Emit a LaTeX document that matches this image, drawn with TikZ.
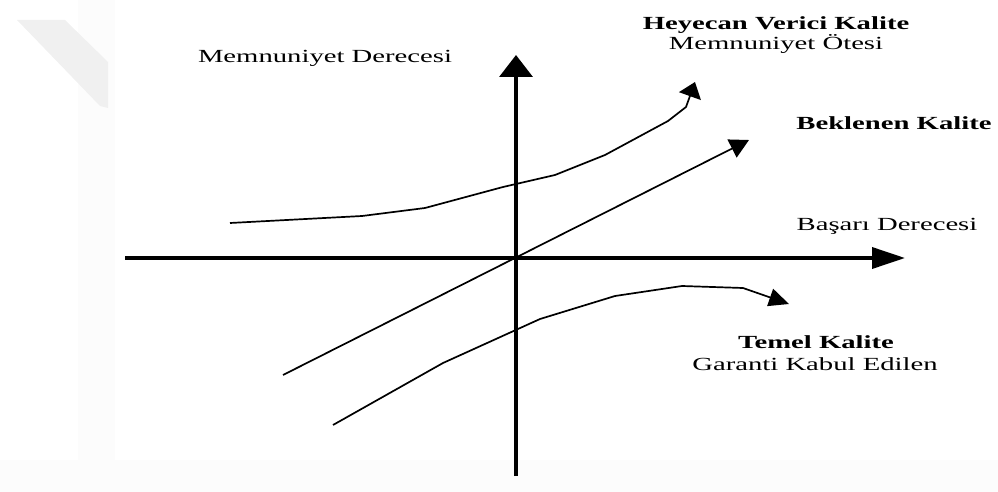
\documentclass[tikz,border=0pt]{standalone}
\usepackage{fontspec}
\setmainfont{Liberation Serif}[FakeStretch=1.55]
\usetikzlibrary{arrows.meta}
\begin{document}
\begin{tikzpicture}[x=1pt,y=-1pt,
  axis/.style={line width=3.6pt},
  curve/.style={line width=1.7pt, line join=round},
  lbl/.style={font=\fontsize{18.5}{20}\selectfont, anchor=base, inner sep=0pt},
  blbl/.style={lbl, font=\fontsize{18.5}{20}\selectfont\bfseries}]
\useasboundingbox (0,0) rectangle (998,492);
% faint background marks
\fill[black!1] (78,0) rectangle (115,492);
\fill[black!1] (0,460) rectangle (998,492);
\fill[black!6] (17,20) -- (65,20) -- (108,62) -- (108,108) -- (100,106) -- cycle;
% axes
\coordinate (vb) at (516,476);
\coordinate (vt) at (516,55);
\coordinate (hl) at (125,258);
\coordinate (hr) at (905,258);
\draw[axis, -{Triangle[length=22pt,width=33pt]}] (vb) -- (vt);
\draw[axis, -{Triangle[length=33pt,width=21pt]}] (hl) -- (hr);
% expected quality
\coordinate (b0) at (283,375);
\coordinate (b1) at (749,140);
\draw[curve, -{Triangle[length=19pt,width=20pt]}] (b0) -- (b1);
% exciting quality
\coordinate (h0) at (230,223);
\coordinate (h1) at (362,216);
\coordinate (h2) at (425,208);
\coordinate (h3) at (503,187);
\coordinate (h4) at (555,175);
\coordinate (h5) at (605,155);
\coordinate (h6) at (668,121);
\coordinate (h7) at (686,107);
\coordinate (h8) at (695,82);
\draw[curve, -{Triangle[length=15pt,width=23pt]}] (h0) -- (h1) -- (h2) -- (h3) -- (h4) -- (h5) -- (h6) -- (h7) -- (h8);
% basic quality
\coordinate (t0) at (333,425);
\coordinate (t1) at (443,363);
\coordinate (t2) at (540,319);
\coordinate (t3) at (615,296);
\coordinate (t4) at (682,286);
\coordinate (t5) at (743,288);
\coordinate (t6) at (789,304);
\draw[curve, -{Triangle[length=20pt,width=18pt]}] (t0) -- (t1) -- (t2) -- (t3) -- (t4) -- (t5) -- (t6);
% labels
\node[lbl] (md) at (325,63) {Memnuniyet Derecesi};
\node[blbl] (hv) at (776,30) {Heyecan Verici Kalite};
\node[lbl] (mo) at (776,50) {Memnuniyet Ötesi};
\node[blbl] (bk) at (894,130) {Beklenen Kalite};
\node[lbl] (bd) at (887,230) {Başarı Derecesi};
\node[blbl] (tk) at (816,348) {Temel Kalite};
\node[lbl] (gk) at (815,370) {Garanti Kabul Edilen};
\end{tikzpicture}
\end{document}
